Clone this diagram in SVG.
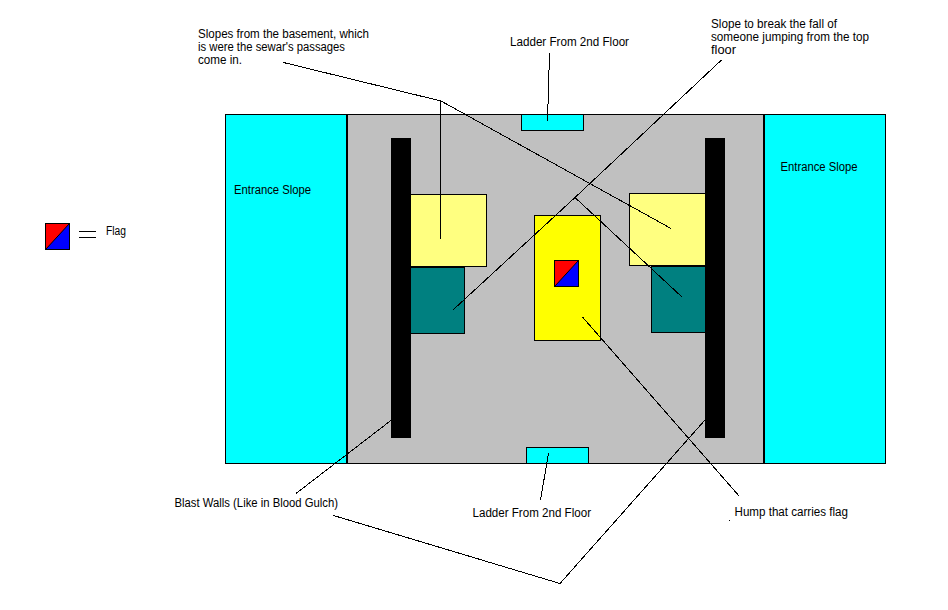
<svg xmlns="http://www.w3.org/2000/svg" width="948" height="610" viewBox="0 0 948 610">
<style>
.b{stroke:#000;stroke-width:1;shape-rendering:crispEdges}
.cy{fill:#00ffff}.gr{fill:#c0c0c0}.ly{fill:#ffff80}.te{fill:#008080}.ye{fill:#ffff00}.bk{fill:#000}
.r{fill:#ff0000}.bl{fill:#0000ff}
.t{font-family:"Liberation Sans",Arial,sans-serif;font-size:12px;fill:#000}
#connectors path{fill:none;stroke:#000;stroke-width:1;shape-rendering:crispEdges}
</style>
<rect width="948" height="610" fill="#fff"/>
<g id="floor"><rect class="b gr" x="346.5" y="114.5" width="418" height="349"/></g>
<g id="entrance-left"><rect class="b cy" x="225.5" y="114.5" width="121" height="349"/><rect class="bk" x="346" y="114" width="2" height="350"/><text class="t" x="234" y="194" textLength="77" lengthAdjust="spacingAndGlyphs">Entrance Slope</text></g>
<g id="entrance-right"><rect class="b cy" x="764.5" y="114.5" width="121" height="349"/><rect class="bk" x="763" y="114" width="2" height="350"/><text class="t" x="780.5" y="171" textLength="77" lengthAdjust="spacingAndGlyphs">Entrance Slope</text></g>
<g id="ladder-top"><rect class="b cy" x="521.5" y="114.5" width="62" height="16"/></g>
<g id="ladder-bottom"><rect class="b cy" x="526.5" y="447.5" width="62" height="16"/></g>
<g id="slope-left"><rect class="b ly" x="410.5" y="194.5" width="76" height="72"/></g>
<g id="pit-left"><rect class="b te" x="410.5" y="267.5" width="54" height="66"/></g>
<g id="slope-right"><rect class="b ly" x="629.5" y="193.5" width="76" height="72"/></g>
<g id="pit-right"><rect class="b te" x="651.5" y="266.5" width="54" height="66"/></g>
<g id="wall-left"><rect class="bk" x="391" y="138" width="20" height="300"/></g>
<g id="wall-right"><rect class="bk" x="705" y="138" width="20" height="300"/></g>
<g id="hump"><rect class="b ye" x="534.5" y="215.5" width="66" height="125"/></g>
<g id="flag"><rect class="b r" x="554.5" y="260.5" width="24" height="26"/><path class="bl" d="M555 286L578 261V286Z"/><path d="M555 286L578 261" stroke="#000" fill="none"/></g>
<g id="legend-flag"><rect class="b r" x="45.5" y="223.5" width="24" height="26"/><path class="bl" d="M46 249L69 224V249Z"/><path d="M46 249L69 224" stroke="#000" fill="none"/><path class="b" d="M79 231.5H96M79 237.5H96" fill="none"/><text class="t" x="106" y="235" textLength="20" lengthAdjust="spacingAndGlyphs">Flag</text></g>
<g id="connectors">
<path d="M283.5 62.500L441 101L440.500 239M441 101L671 228.500"/>
<path d="M721.500 60L575 197.500L453.500 309.500M575 197.500L682.500 297.500"/>
<path d="M549.500 53L547.500 121.500"/>
<path d="M548.500 453.500L540.500 500"/>
<path d="M296 493.500L391.500 420"/>
<path d="M333.500 515.500L560 583.500L705 420"/>
<path d="M582.500 317L739.500 496.500"/>
<rect x="729" y="520" width="1" height="1" fill="#000"/>
</g>
<g id="labels">
<text class="t" x="198" y="38" textLength="171" lengthAdjust="spacingAndGlyphs">Slopes from the basement, which</text>
<text class="t" x="198" y="51" textLength="147" lengthAdjust="spacingAndGlyphs">is were the sewar's passages</text>
<text class="t" x="198" y="64" textLength="44" lengthAdjust="spacingAndGlyphs">come in.</text>
<text class="t" x="510" y="46" textLength="119" lengthAdjust="spacingAndGlyphs">Ladder From 2nd Floor</text>
<text class="t" x="711" y="28" textLength="126" lengthAdjust="spacingAndGlyphs">Slope to break the fall of</text>
<text class="t" x="711" y="41" textLength="158" lengthAdjust="spacingAndGlyphs">someone jumping from the top</text>
<text class="t" x="711" y="54" textLength="25" lengthAdjust="spacingAndGlyphs">floor</text>
<text class="t" x="174.500" y="507" textLength="163.500" lengthAdjust="spacingAndGlyphs">Blast Walls (Like in Blood Gulch)</text>
<text class="t" x="472.500" y="517" textLength="118.500" lengthAdjust="spacingAndGlyphs">Ladder From 2nd Floor</text>
<text class="t" x="734.500" y="516" textLength="113.500" lengthAdjust="spacingAndGlyphs">Hump that carries flag</text>
</g>
</svg>
